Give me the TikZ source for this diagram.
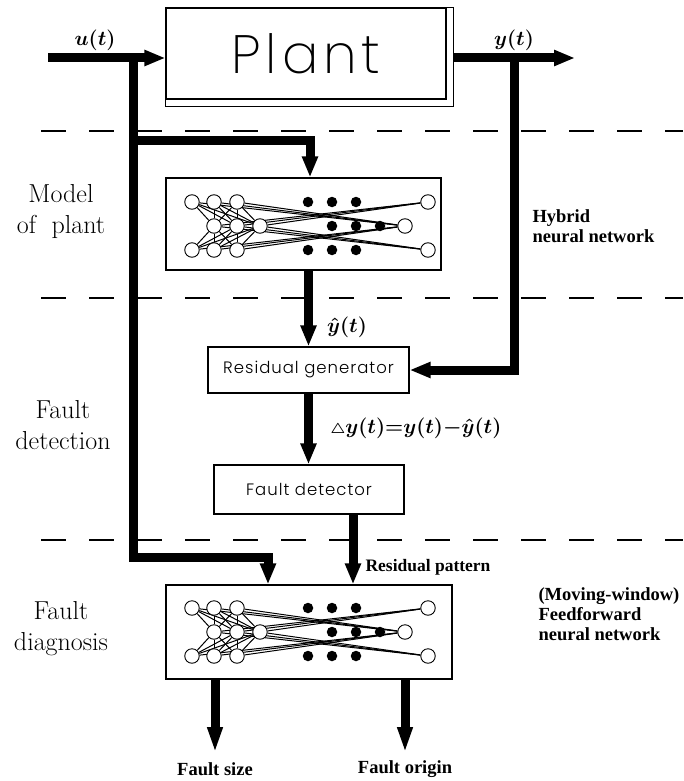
\documentclass[tikz,border=0pt]{standalone}
\usepackage{fontspec}
\usepackage{amsmath}
\usetikzlibrary{arrows.meta, backgrounds}
\newfontfamily\notefont{Liberation Serif}
\newfontfamily\simplexfont[LetterSpace=6]{Poppins Light}
\newfontfamily\plantfont[LetterSpace=9]{Poppins ExtraLight}

% small net drawing: #1 name prefix, (#2,#3) first input neuron of middle row
\newcommand{\neuralnet}[3]{%
  \foreach \r/\dy in {a/-24,c/24} {
    \foreach \i/\dx in {1/0,2/22,3/45}
      \node[neuron] (#1\r\i) at ({#2+\dx},{#3+\dy}) {};
    \foreach \i/\dx in {1/116,2/140,3/164}
      \node[cell] (#1\r h\i) at ({#2+\dx},{#3+\dy}) {};
    \node[neuron] (#1\r o) at ({#2+236},{#3+\dy}) {};
  }
  \foreach \i/\dx in {1/22,2/45,3/68}
    \node[neuron] (#1b\i) at ({#2+\dx},#3) {};
  \foreach \i/\dx in {1/140,2/164,3/188}
    \node[cell] (#1bh\i) at ({#2+\dx},#3) {};
  \node[neuron] (#1bo) at ({#2+213},#3) {};
  \begin{scope}[on background layer]
    \foreach \r in {a,c} \foreach \i in {1,2,3} {
      \draw[link] (#1\r\i) -- (#1bo);
      \foreach \j in {1,2,3} \draw[link] (#1\r\i) -- (#1b\j);
    }
    \foreach \j in {1,2,3} {
      \draw[link] (#1b\j) -- (#1ao);
      \draw[link] (#1b\j) -- (#1co);
    }
  \end{scope}
}

\begin{document}
\begin{tikzpicture}[x=1pt, y=-1pt,
  plantbox/.style={draw, line width=1.2pt, minimum width=280pt, minimum height=91pt,
    font=\plantfont\fontsize{54}{54}\selectfont},
  netbox/.style={draw, line width=1.2pt},
  block/.style={draw, line width=1.2pt, font=\simplexfont\fontsize{16.5}{16.5}\selectfont},
  neuron/.style={circle, draw, fill=white, line width=0.9pt, inner sep=0pt, minimum size=14.5pt},
  cell/.style={circle, fill=black, inner sep=0pt, minimum size=10.5pt},
  link/.style={line width=1pt},
  sig/.style={line width=9pt, -{Triangle[length=21pt,width=15pt]}},
  outsig/.style={line width=9pt, -{Triangle[length=26pt,width=14pt]}},
  sep/.style={line width=1.3pt, dash pattern=on 25pt off 23pt},
  stage/.style={align=center, font=\fontsize{26}{31}\selectfont},
  note/.style={align=left, font=\notefont\bfseries\fontsize{18.5}{20}\selectfont},
  sym/.style={font=\fontsize{20}{24}\selectfont},
]
\useasboundingbox (0,0) rectangle (683,781);

% level separators
\draw[sep] (41,131) -- (683,131);
\draw[sep] (41,298) -- (683,298);
\draw[sep] (41,540) -- (683,540);

% plant
\node[plantbox] (plant) at (306,53.5) {Plant};
\draw[line width=1.2pt] (plant.north east) -- ++(7,0) |- ([yshift=-7pt]plant.south west) -- (plant.south west);
\coordinate (plantout) at ([xshift=7pt]plant.east);

\coordinate (uin) at (48,58);
\coordinate (utap) at (133,58);
\coordinate (ytap) at (514,58);
\coordinate (yout) at (575,58);

% blocks
\node[netbox, minimum width=275pt, minimum height=92pt] (model) at (303.5,224) {};
\neuralnet{m}{192}{226}
\node[block, minimum width=201pt, minimum height=46pt] (resgen) at (308.5,370) {Residual generator};
\node[block, minimum width=190pt, minimum height=49pt] (detector) at (309,489.5) {Fault detector};
\node[netbox, minimum width=286pt, minimum height=94pt] (diag) at (309,632) {};
\neuralnet{d}{192}{632}

% signals
\draw[sig] (uin) -- (uin -| plant.west);
\draw[sig] (plantout |- yout) -- (yout);
\coordinate (ubend) at (310,140);
\coordinate (dbend) at (268,557);
\draw[sig] (utap) |- (ubend) -- (ubend |- model.north);
\draw[sig] (utap) |- (dbend) -- (dbend |- diag.north);
\draw[sig] (ytap) |- (resgen.east);
\draw[sig] (resgen.north |- model.south) -- (resgen.north);
\draw[sig] (resgen.south) -- (resgen.south |- detector.north);
\coordinate (patt) at (353,514);
\draw[sig] (patt) -- (patt |- diag.north);
\coordinate (sizeout) at (215,753);
\coordinate (originout) at (405,753);
\draw[outsig] (sizeout |- diag.south) -- (sizeout);
\draw[outsig] (originout |- diag.south) -- (originout);

% labels
\node[sym] (ulab) at (95,40) {$\boldsymbol{u(t)}$};
\node[sym] (ylab) at (514,40) {$\boldsymbol{y(t)}$};
\node[sym] (yhatlab) at (347,327) {$\boldsymbol{\hat{y}(t)}$};
\node[sym] (reslab) at (416,428) {$\boldsymbol{{\scriptstyle\triangle}y(t){=}y(t){-}\hat{y}(t)}$};

\node[stage] (modelstage) at (61,212) {Model\\of\ \ plant};
\node[stage] (detectstage) at (63,425) {Fault\\detection};
\node[stage] (diagstage) at (61,629) {Fault\\diagnosis};

\node[note, anchor=west] (hybrid) at (529,226) {Hybrid\\neural network};
\node[note, anchor=west] (ffnet) at (535,614) {(Moving-window)\\Feedforward\\neural network};
\node[note, anchor=west, font=\notefont\bfseries\fontsize{17.5}{20}\selectfont] (pattlab) at (362,567) {Residual pattern};
\node[note] (sizelab) at (215,769) {Fault size};
\node[note] (originlab) at (405,769) {Fault origin};
\end{tikzpicture}
\end{document}
